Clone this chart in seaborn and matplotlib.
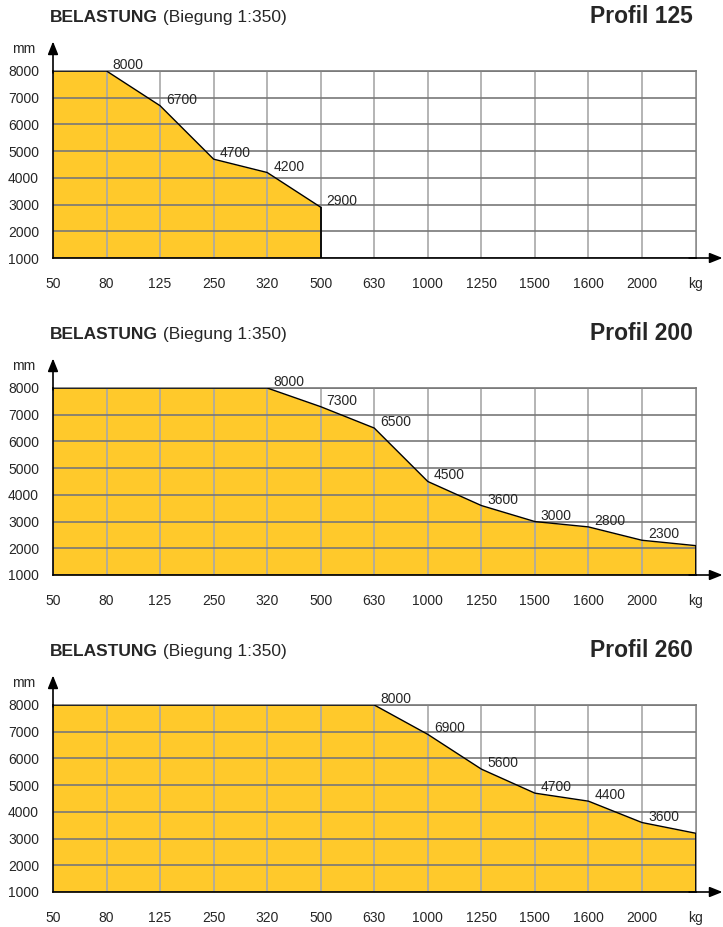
import matplotlib
matplotlib.use('Agg')
import matplotlib.pyplot as plt
import seaborn as sns

# x categories (load in kg) and the unit shown at the end of the axis
loads = ['50', '80', '125', '250', '320', '500', '630', '1000', '1250', '1500', '1600', '2000']
unit_x = 'kg'
y_ticks = [1000, 2000, 3000, 4000, 5000, 6000, 7000, 8000]

# max. span length (mm) per load position
profil_125 = [8000, 8000, 6700, 4700, 4200, 2900]
profil_200 = [8000, 8000, 8000, 8000, 8000, 7300, 6500, 4500, 3600, 3000, 2800, 2300, 2100]
profil_260 = [8000, 8000, 8000, 8000, 8000, 8000, 8000, 6900, 5600, 4700, 4400, 3600, 3200]

profiles = [('Profil 125', profil_125), ('Profil 200', profil_200), ('Profil 260', profil_260)]

FILL = '#FFC92B'
HGRID = '#787878'
VGRID = '#A8A8A8'

sns.set_style('white')
plt.rcParams['font.family'] = ['Liberation Sans', 'DejaVu Sans']

fig = plt.figure(figsize=(7.23, 9.27), dpi=100)
bottoms = [0.72168, 0.37972, 0.03776]

for (name, values), bottom in zip(profiles, bottoms):
    ax = fig.add_axes([0.07331, bottom, 0.8887, 0.20173])
    x = list(range(len(values)))

    ax.fill_between(x, values, y_ticks[0], color=FILL, lw=0, zorder=1)
    sns.lineplot(x=x, y=values, color='black', lw=1, ax=ax, zorder=4)
    ax.vlines(x[-1], y_ticks[0], values[-1], color='black', lw=1.3, zorder=4)

    # value labels at each break point
    for i, v in enumerate(values):
        if 1 <= i <= len(loads) - 1 and (i == len(values) - 1 or values[i + 1] != v):
            ax.annotate(str(v), xy=(i, v), xytext=(6, 6), textcoords='offset pixels',
                        ha='left', va='center', fontsize=10, zorder=5)

    ax.set_xlim(0, len(loads))
    ax.set_ylim(y_ticks[0], y_ticks[-1])
    ax.set_xticks(range(len(loads) + 1))
    ax.set_xticklabels(loads + [unit_x])
    ax.set_yticks(y_ticks)
    ax.set_yticklabels([str(t) for t in y_ticks])
    ax.tick_params(axis='x', length=0, pad=14, labelsize=10)
    ax.tick_params(axis='y', length=0, pad=10, labelsize=10)

    ax.set_axisbelow(False)
    ax.yaxis.grid(True, color=HGRID, lw=1.2)
    ax.xaxis.grid(True, color=VGRID, lw=1.2)

    for side in ['left', 'bottom']:
        ax.spines[side].set_color('black')
        ax.spines[side].set_linewidth(1.2)
        ax.spines[side].set_zorder(6)
    for side in ['top', 'right']:
        ax.spines[side].set_color(HGRID)
        ax.spines[side].set_linewidth(1.2)

    arrow = dict(arrowstyle='-|>,head_length=0.55,head_width=0.22', color='black',
                 lw=1.2, mutation_scale=14, shrinkA=0, shrinkB=0)
    ax.annotate('', xy=(1.042, 0), xytext=(0.99, 0), xycoords='axes fraction',
                arrowprops=arrow, annotation_clip=False)
    ax.annotate('', xy=(0, 1.158), xytext=(0, 0.99), xycoords='axes fraction',
                arrowprops=arrow, annotation_clip=False)

    ax.annotate('mm', xy=(0, 1), xycoords='axes fraction', xytext=(-18, 22),
                textcoords='offset pixels', ha='right', va='center', fontsize=10)

    t1 = ax.annotate('BELASTUNG', xy=(0, 1), xycoords='axes fraction', xytext=(-3, 53),
                     textcoords='offset pixels', ha='left', va='center',
                     fontsize=12.5, fontweight='bold')
    ax.annotate(' (Biegung 1:350)', xy=(1, 0), xycoords=t1, ha='left', va='bottom',
                fontsize=12.5)
    ax.annotate(name, xy=(1, 1), xycoords='axes fraction', xytext=(-3, 54),
                textcoords='offset pixels', ha='right', va='center',
                fontsize=16.5, fontweight='bold')

fig.savefig('out.png', dpi=100)
